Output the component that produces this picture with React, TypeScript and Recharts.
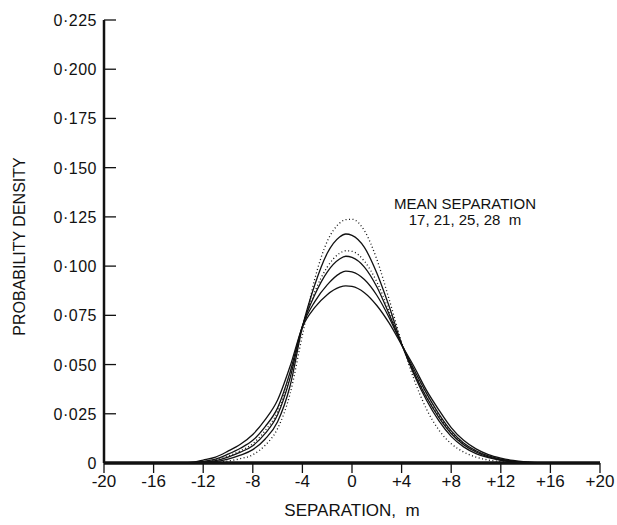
import React from "react";
import { LineChart, Line, XAxis, YAxis, Label } from "recharts";

// Separation (m)
const SEP = [-20, -14, -13, -12, -11, -10, -9, -8, -7, -6, -5, -4, -3, -2, -1, -0.5, 0, 1, 2, 3, 4, 5, 6, 7, 8, 9, 10, 11, 12, 13, 14, 15, 16, 20];

// Measured densities (solid)
const SEP17 = [0, 0, 0, 0.0002, 0.0007, 0.002, 0.004, 0.0068, 0.0122, 0.021, 0.039, 0.069, 0.0905, 0.1065, 0.1148, 0.1163, 0.1156, 0.1095, 0.0965, 0.0795, 0.0605, 0.045, 0.032, 0.0215, 0.0135, 0.0082, 0.0048, 0.0027, 0.0014, 0.0006, 0.0002, 0, 0, 0];
const SEP21 = [0, 0, 0, 0.0004, 0.0012, 0.003, 0.0055, 0.0088, 0.015, 0.0245, 0.043, 0.0695, 0.0855, 0.097, 0.1036, 0.105, 0.1044, 0.0995, 0.0895, 0.0755, 0.0603, 0.046, 0.0335, 0.0232, 0.015, 0.0093, 0.0056, 0.0031, 0.0017, 0.0008, 0.0003, 0, 0, 0];
const SEP25 = [0, 0, 0.0001, 0.0008, 0.002, 0.0045, 0.0075, 0.0115, 0.0185, 0.028, 0.046, 0.0695, 0.082, 0.0905, 0.0962, 0.0975, 0.0971, 0.0932, 0.0852, 0.0738, 0.0603, 0.0475, 0.0355, 0.025, 0.0163, 0.0102, 0.0062, 0.0036, 0.002, 0.001, 0.0004, 0.0001, 0, 0];
const SEP28 = [0, 0, 0.0003, 0.0015, 0.003, 0.006, 0.0095, 0.0145, 0.022, 0.032, 0.049, 0.069, 0.079, 0.0855, 0.0893, 0.09, 0.0897, 0.0865, 0.08, 0.071, 0.06, 0.049, 0.037, 0.027, 0.018, 0.0115, 0.0072, 0.0043, 0.0025, 0.0013, 0.0006, 0.0002, 0, 0];

// Dotted curves
const DOT_A = [0, 0, 0, 0, 0.0003, 0.001, 0.0022, 0.0042, 0.009, 0.0175, 0.035, 0.065, 0.0935, 0.1125, 0.1218, 0.1236, 0.1238, 0.118, 0.1035, 0.083, 0.0615, 0.0425, 0.0275, 0.0168, 0.0098, 0.0056, 0.003, 0.0015, 0.0007, 0.0002, 0, 0, 0, 0];
const DOT_B = [0, 0, 0.0001, 0.0006, 0.0015, 0.0035, 0.0062, 0.0098, 0.0165, 0.026, 0.044, 0.0695, 0.087, 0.0995, 0.1065, 0.1078, 0.1075, 0.1025, 0.092, 0.077, 0.0605, 0.0465, 0.0338, 0.0238, 0.0157, 0.0097, 0.0059, 0.0033, 0.0018, 0.0009, 0.0004, 0.0001, 0, 0];

const X_TICKS = [-20, -16, -12, -8, -4, 0, 4, 8, 12, 16, 20];
const Y_TICKS = [0, 0.025, 0.05, 0.075, 0.1, 0.125, 0.15, 0.175, 0.2, 0.225];

const data = SEP.map((s, i) => ({
  sep: s,
  s17: SEP17[i],
  s21: SEP21[i],
  s25: SEP25[i],
  s28: SEP28[i],
  da: DOT_A[i],
  db: DOT_B[i],
}));

const FONT = "'Liberation Sans', Arial, Helvetica, sans-serif";
const INK = "#111";

const fmtY = (v: number) => (v === 0 ? "0" : v.toFixed(3).replace(".", "·"));
const fmtX = (v: number) => (v > 0 ? "+" + v : String(v));

const YTick = (props: any) => {
  const { x, y, payload } = props;
  return (
    <g>
      <line x1={x + 7} x2={x + 19} y1={y} y2={y} stroke={INK} strokeWidth={1.3} />
      <text x={x} y={y} dy={6} textAnchor="end" fontFamily={FONT} fontSize={16} letterSpacing={0.5} fill={INK}>
        {fmtY(payload.value)}
      </text>
    </g>
  );
};

export default function App() {
  return (
    <div style={{ position: "absolute", left: 0, top: 0, width: 617, height: 525, background: "#fff" }}>
      <LineChart width={617} height={525} data={data} margin={{ top: 20, right: 17, bottom: 22, left: 0 }}>
        <XAxis
          dataKey="sep"
          type="number"
          domain={[-20, 20]}
          ticks={X_TICKS}
          tickFormatter={fmtX}
          interval={0}
          height={40}
          axisLine={{ stroke: INK, strokeWidth: 3.5 }}
          tickLine={{ stroke: INK, strokeWidth: 1.3 }}
          tickSize={10}
          tickMargin={2}
          tick={{ fontFamily: FONT, fontSize: 17, fill: INK }}
        >
          <Label
            content={(p: any) => {
              const vb = p.viewBox;
              return (
                <text
                  x={vb.x + vb.width / 2}
                  y={vb.y + 47}
                  textAnchor="middle"
                  dominantBaseline="central"
                  fontFamily={FONT}
                  fontSize={17}
                  fill={INK}
                  xmlSpace="preserve"
                  style={{ whiteSpace: "pre" }}
                >
                  {"SEPARATION,  m"}
                </text>
              );
            }}
          />
        </XAxis>
        <YAxis
          type="number"
          domain={[0, 0.225]}
          ticks={Y_TICKS}
          interval={0}
          width={104}
          axisLine={{ stroke: INK, strokeWidth: 2.5 }}
          tickLine={false}
          tickSize={0}
          tickMargin={7}
          tick={<YTick />}
        >
          <Label
            content={(p: any) => {
              const vb = p.viewBox;
              const cx = vb.x + 19;
              const cy = vb.y + vb.height / 2 + 5;
              return (
                <text
                  x={cx}
                  y={cy}
                  transform={`rotate(-90 ${cx} ${cy})`}
                  textAnchor="middle"
                  dominantBaseline="central"
                  fontFamily={FONT}
                  fontSize={16}
                  fill={INK}
                >
                  PROBABILITY DENSITY
                </text>
              );
            }}
          />
        </YAxis>
        <Line dataKey="da" type="monotone" stroke={INK} strokeWidth={1.3} strokeDasharray="1 2.5" dot={false} isAnimationActive={false} />
        <Line dataKey="db" type="monotone" stroke={INK} strokeWidth={1.3} strokeDasharray="1 2.5" dot={false} isAnimationActive={false} />
        <Line dataKey="s17" type="monotone" stroke={INK} strokeWidth={1.3} dot={false} isAnimationActive={false} />
        <Line dataKey="s21" type="monotone" stroke={INK} strokeWidth={1.3} dot={false} isAnimationActive={false} />
        <Line dataKey="s25" type="monotone" stroke={INK} strokeWidth={1.3} dot={false} isAnimationActive={false} />
        <Line dataKey="s28" type="monotone" stroke={INK} strokeWidth={1.3} dot={false} isAnimationActive={false} />
      </LineChart>
      <div
        style={{
          position: "absolute",
          left: 380,
          top: 196,
          width: 170,
          textAlign: "center",
          fontFamily: FONT,
          fontSize: 15,
          lineHeight: "16px",
          color: INK,
          whiteSpace: "pre",
        }}
      >
        {"MEAN SEPARATION\n17, 21, 25, 28  m"}
      </div>
    </div>
  );
}
